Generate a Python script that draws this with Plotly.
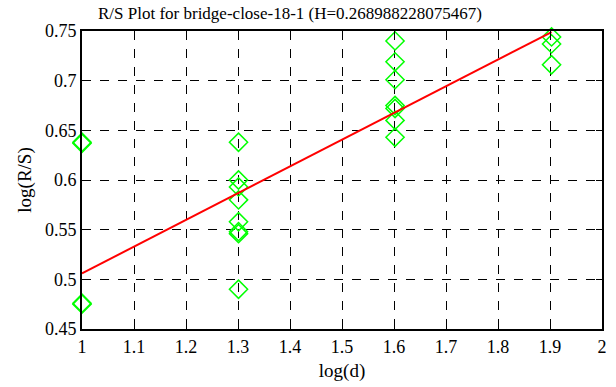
import plotly.graph_objects as go

title_text = "R/S Plot for bridge-close-18-1 (H=0.268988228075467)"
H = 0.268988228075467
intercept = 0.506

x_pts = [1.0, 1.0, 1.0, 1.0,
         1.301, 1.301, 1.301, 1.301, 1.301, 1.301, 1.301, 1.301,
         1.602, 1.602, 1.602, 1.602, 1.602, 1.602, 1.602,
         1.903, 1.903, 1.903]
y_pts = [0.638, 0.637, 0.476, 0.475,
         0.638, 0.600, 0.593, 0.580, 0.558, 0.548, 0.546, 0.490,
         0.740, 0.719, 0.701, 0.675, 0.672, 0.660, 0.643,
         0.744, 0.737, 0.716]

line_x = [1.0, 1.903]
line_y = [intercept + H * (v - 1.0) for v in line_x]

x_ticks = [1, 1.1, 1.2, 1.3, 1.4, 1.5, 1.6, 1.7, 1.8, 1.9, 2]
x_tick_labels = ["1", "1.1", "1.2", "1.3", "1.4", "1.5", "1.6", "1.7", "1.8", "1.9", "2"]
y_ticks = [0.45, 0.5, 0.55, 0.6, 0.65, 0.7, 0.75]
y_tick_labels = ["0.45", "0.5", "0.55", "0.6", "0.65", "0.7", "0.75"]

SERIF = "Times New Roman, Liberation Serif, serif"

fig = go.Figure()
fig.add_trace(go.Scatter(x=x_pts, y=y_pts, mode="markers",
                         marker=dict(symbol="diamond-open", size=14, color="#00ff00",
                                     line=dict(width=1.5, color="#00ff00")),
                         showlegend=False, cliponaxis=False))
fig.add_trace(go.Scatter(x=line_x, y=line_y, mode="lines",
                         line=dict(color="#ff0000", width=2), showlegend=False))

def axis_common():
    return dict(showline=True, linecolor="black", linewidth=2, mirror="ticks",
                ticks="inside", ticklen=6, tickcolor="black", tickwidth=1,
                showgrid=True, gridcolor="black", griddash="dash", gridwidth=1,
                zeroline=False,
                tickfont=dict(family=SERIF, size=18, color="black"))

fig.update_layout(
    width=616, height=387,
    margin=dict(l=82, r=9, t=31, b=56),
    paper_bgcolor="white", plot_bgcolor="white",
    font=dict(family=SERIF, size=18, color="black"),
    xaxis=dict(range=[1, 2], tickvals=x_ticks, ticktext=x_tick_labels,
               title=dict(text="log(d)", font=dict(family=SERIF, size=19, color="black"),
                          standoff=8), **axis_common()),
    yaxis=dict(range=[0.45, 0.75], tickvals=y_ticks, ticktext=y_tick_labels,
               title=dict(text="log(R/S)", font=dict(family=SERIF, size=19, color="black"),
                          standoff=8), **axis_common()),
    annotations=[dict(text=title_text, x=0.4, y=1, xref="paper", yref="paper",
                      yanchor="bottom", yshift=6, showarrow=False,
                      font=dict(family=SERIF, size=17, color="black"))],
)
fig.write_html("out.html", config={"displayModeBar": False},
               post_script="document.body.style.margin='0';")
